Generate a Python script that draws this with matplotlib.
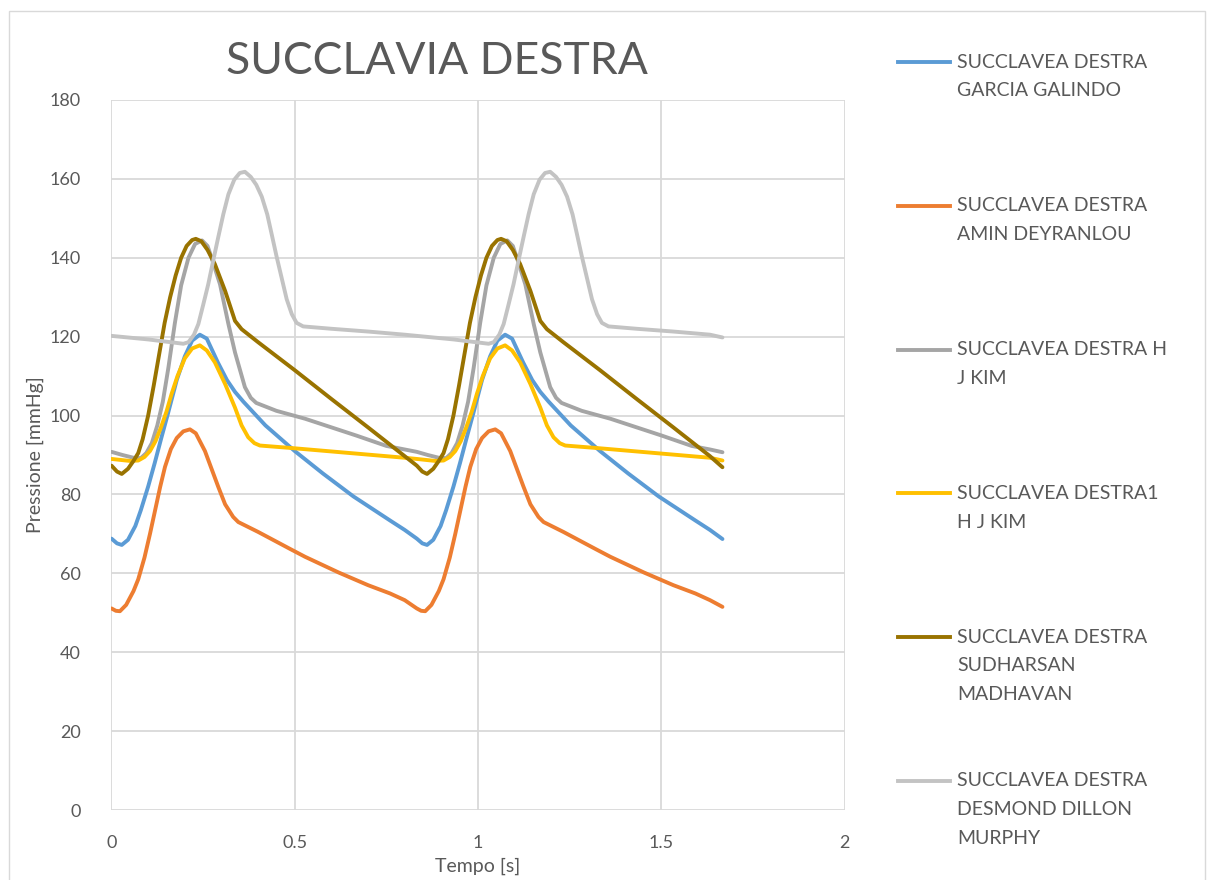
import matplotlib.pyplot as plt
from matplotlib.lines import Line2D
from matplotlib.patches import Rectangle

# Pressure traces, two beats each (time in s, pressure in mmHg)
t_garcia = [0, 0.015, 0.028, 0.045, 0.065, 0.08, 0.10, 0.118, 0.135, 0.154, 0.178, 0.20, 0.22,
            0.241, 0.26, 0.29, 0.315, 0.337, 0.36, 0.42, 0.5, 0.577, 0.66, 0.76, 0.80,
            0.833, 0.848, 0.861, 0.878, 0.898, 0.913, 0.933, 0.951, 0.968, 0.987, 1.011, 1.033, 1.053,
            1.074, 1.093, 1.123, 1.148, 1.170, 1.193, 1.253, 1.333, 1.410, 1.493, 1.593, 1.633, 1.667]
p_garcia = [68.8, 67.6, 67.2, 68.5, 72, 76, 82, 88, 94, 100.5, 109, 115, 119,
            120.5, 119.5, 113.5, 109, 106, 103.5, 97.5, 91, 85.3, 79.5, 73.4, 71,
            68.8, 67.6, 67.2, 68.5, 72, 76, 82, 88, 94, 100.5, 109, 115, 119,
            120.5, 119.5, 113.5, 109, 106, 103.5, 97.5, 91, 85.3, 79.5, 73.4, 71, 68.7]

t_amin = [0, 0.012, 0.023, 0.04, 0.06, 0.073, 0.09, 0.105, 0.119, 0.133, 0.146, 0.162, 0.178, 0.196,
          0.214, 0.23, 0.255, 0.275, 0.291, 0.31, 0.332, 0.346, 0.40, 0.487, 0.528, 0.62, 0.70, 0.76, 0.80,
          0.833, 0.845, 0.856, 0.873, 0.893, 0.906, 0.923, 0.938, 0.952, 0.966, 0.979, 0.995, 1.011, 1.029,
          1.047, 1.063, 1.088, 1.108, 1.124, 1.143, 1.165, 1.179, 1.233, 1.320, 1.361, 1.453, 1.533, 1.593,
          1.633, 1.667]
p_amin = [51.1, 50.5, 50.4, 52, 55.5, 58.5, 64, 70, 76, 82, 87, 91.5, 94.3, 96,
          96.5, 95.5, 91, 86, 82, 77.5, 74.3, 73, 70.5, 66.2, 64.2, 60.2, 57, 54.9, 53.2,
          51.1, 50.5, 50.4, 52, 55.5, 58.5, 64, 70, 76, 82, 87, 91.5, 94.3, 96,
          96.5, 95.5, 91, 86, 82, 77.5, 74.3, 73, 70.5, 66.2, 64.2, 60.2, 57, 54.9,
          53.2, 51.5]

t_kim = [0, 0.03, 0.06, 0.08, 0.095, 0.11, 0.125, 0.14, 0.155, 0.173, 0.19, 0.21, 0.228, 0.247,
         0.262, 0.273, 0.296, 0.319, 0.337, 0.364, 0.38, 0.395, 0.45, 0.528, 0.669, 0.75, 0.80,
         0.833, 0.863, 0.893, 0.913, 0.928, 0.943, 0.958, 0.973, 0.988, 1.006, 1.023, 1.043, 1.061, 1.080,
         1.095, 1.106, 1.129, 1.152, 1.170, 1.197, 1.213, 1.228, 1.283, 1.361, 1.502, 1.583, 1.633, 1.667]
p_kim = [90.8, 90, 89.3, 89.2, 90.5, 93, 97.5, 103.5, 112, 123.5, 133, 140, 143.5, 144.4,
         143, 140, 133.3, 123.2, 116, 107.2, 104.5, 103.2, 101.2, 99.2, 94.9, 92.3, 91.4,
         90.8, 90, 89.3, 89.2, 90.5, 93, 97.5, 103.5, 112, 123.5, 133, 140, 143.5, 144.4,
         143, 140, 133.3, 123.2, 116, 107.2, 104.5, 103.2, 101.2, 99.2, 94.9, 92.3, 91.4, 90.7]

t_kim1 = [0, 0.02, 0.05, 0.073, 0.09, 0.105, 0.12, 0.135, 0.15, 0.164, 0.18, 0.20, 0.22, 0.241,
          0.26, 0.282, 0.31, 0.337, 0.355, 0.373, 0.39, 0.405, 0.487, 0.6, 0.7, 0.8,
          0.833, 0.853, 0.883, 0.906, 0.923, 0.938, 0.953, 0.968, 0.983, 0.997, 1.013, 1.033, 1.053, 1.074,
          1.093, 1.115, 1.143, 1.170, 1.188, 1.206, 1.223, 1.238, 1.320, 1.433, 1.533, 1.633, 1.667]
p_kim1 = [89, 88.8, 88.5, 88.6, 89.5, 91, 93.5, 97, 101, 105.5, 110, 114.5, 117, 117.8,
          116.5, 113.5, 108, 102, 97.5, 94.5, 93, 92.4, 91.8, 90.9, 90.1, 89.3,
          89, 88.8, 88.5, 88.6, 89.5, 91, 93.5, 97, 101, 105.5, 110, 114.5, 117, 117.8,
          116.5, 113.5, 108, 102, 97.5, 94.5, 93, 92.4, 91.8, 90.9, 90.1, 89.3, 88.6]

t_madhavan = [0, 0.015, 0.028, 0.045, 0.06, 0.073, 0.085, 0.10, 0.115, 0.13, 0.145, 0.16, 0.175, 0.19,
              0.205, 0.22, 0.23, 0.245, 0.262, 0.282, 0.31, 0.337, 0.355, 0.40, 0.50, 0.60, 0.70, 0.80,
              0.833, 0.848, 0.861, 0.878, 0.893, 0.906, 0.918, 0.933, 0.948, 0.963, 0.978, 0.993, 1.008, 1.023,
              1.038, 1.053, 1.063, 1.078, 1.095, 1.115, 1.143, 1.170, 1.188, 1.233, 1.333, 1.433, 1.533, 1.633,
              1.667]
p_madhavan = [87.3, 85.8, 85.2, 86.5, 88.5, 90.5, 94, 100, 107.5, 115.5, 123.5, 130, 135.5, 140,
              143, 144.5, 144.8, 144.2, 142, 138.4, 131.6, 124, 121.9, 118.6, 111.5, 104.2, 97, 89.7,
              87.3, 85.8, 85.2, 86.5, 88.5, 90.5, 94, 100, 107.5, 115.5, 123.5, 130, 135.5, 140,
              143, 144.5, 144.8, 144.2, 142, 138.4, 131.6, 124, 121.9, 118.6, 111.5, 104.2, 97, 89.7,
              86.9]

t_murphy = [0, 0.1, 0.196, 0.21, 0.225, 0.237, 0.25, 0.264, 0.278, 0.291, 0.305, 0.319, 0.335, 0.35,
            0.364, 0.38, 0.395, 0.41, 0.425, 0.437, 0.45, 0.464, 0.478, 0.492, 0.505, 0.523, 0.6, 0.7, 0.8,
            0.833, 0.933, 1.029, 1.043, 1.058, 1.070, 1.083, 1.097, 1.111, 1.124, 1.138, 1.152, 1.168, 1.183,
            1.197, 1.213, 1.228, 1.243, 1.258, 1.270, 1.283, 1.297, 1.311, 1.325, 1.338, 1.356, 1.433, 1.533,
            1.633, 1.667]
p_murphy = [120.2, 119.3, 118.2, 118.6, 120.5, 123.2, 128, 133.3, 139.5, 145.1, 151, 156.1, 159.8, 161.5,
            161.8, 160.5, 158.5, 155.5, 151, 146, 140.5, 135, 129.5, 125.7, 123.5, 122.6, 122, 121.3, 120.5,
            120.2, 119.3, 118.2, 118.6, 120.5, 123.2, 128, 133.3, 139.5, 145.1, 151, 156.1, 159.8, 161.5,
            161.8, 160.5, 158.5, 155.5, 151, 146, 140.5, 135, 129.5, 125.7, 123.5, 122.6, 122, 121.3,
            120.5, 119.8]

labels = [
    "SUCCLAVEA DESTRA\nGARCIA GALINDO",
    "SUCCLAVEA DESTRA\nAMIN DEYRANLOU",
    "SUCCLAVEA DESTRA H\nJ KIM",
    "SUCCLAVEA DESTRA1\nH J KIM",
    "SUCCLAVEA DESTRA\nSUDHARSAN\nMADHAVAN",
    "SUCCLAVEA DESTRA\nDESMOND DILLON\nMURPHY",
]
colors = ["#5B9BD5", "#ED7D31", "#A5A5A5", "#FFC000", "#997300", "#C3C3C3"]
series = [(t_garcia, p_garcia), (t_amin, p_amin), (t_kim, p_kim),
          (t_kim1, p_kim1), (t_madhavan, p_madhavan), (t_murphy, p_murphy)]

plt.rcParams["font.family"] = ["Lato", "DejaVu Sans"]
text_col = "#595959"
W, H = 1213, 880

fig = plt.figure(figsize=(W / 100, H / 100), dpi=100)
fig.add_artist(Rectangle((9 / W, -0.01), 1196 / W, 869 / H + 0.01, transform=fig.transFigure,
                         fill=False, ec="#D9D9D9", lw=1))

ax = fig.add_axes([111.5 / W, 1 - 810 / H, 733 / W, 710 / H])
for (t, p), c in zip(series, colors):
    ax.plot(t, p, color=c, lw=2.8, solid_capstyle="round", solid_joinstyle="round")

ax.set_xlim(0, 2)
ax.set_ylim(0, 180)
ax.set_xticks([0, 0.5, 1, 1.5, 2])
ax.set_xticklabels(["0", "0.5", "1", "1.5", "2"])
ax.set_yticks(range(0, 181, 20))
ax.grid(True, color="#D9D9D9", lw=1.3)
ax.set_axisbelow(True)
for s in ax.spines.values():
    s.set_visible(False)
ax.tick_params(length=0, labelsize=13, labelcolor=text_col)
ax.tick_params(axis="x", pad=18)
ax.tick_params(axis="y", pad=22)
ax.set_xlabel("Tempo [s]", fontsize=14, color=text_col, labelpad=5)
ax.set_ylabel("Pressione [mmHg]", fontsize=14, color=text_col, labelpad=4)

fig.text(437 / W, 1 - 62 / H, "SUCCLAVIA DESTRA", fontsize=32, color=text_col,
         ha="center", va="center")

# legend on the right, one evenly spaced slot per series
for i, (lab, c) in enumerate(zip(labels, colors)):
    y0 = 62 + i * 143.8
    fig.add_artist(Line2D([898 / W, 950 / W], [1 - y0 / H, 1 - y0 / H], color=c, lw=2.8,
                          transform=fig.transFigure))
    for k, line in enumerate(lab.split("\n")):
        fig.text(957 / W, 1 - (y0 + k * 28.7) / H, line, fontsize=14, color=text_col,
                 ha="left", va="center")

fig.savefig("out.png", dpi=100)
